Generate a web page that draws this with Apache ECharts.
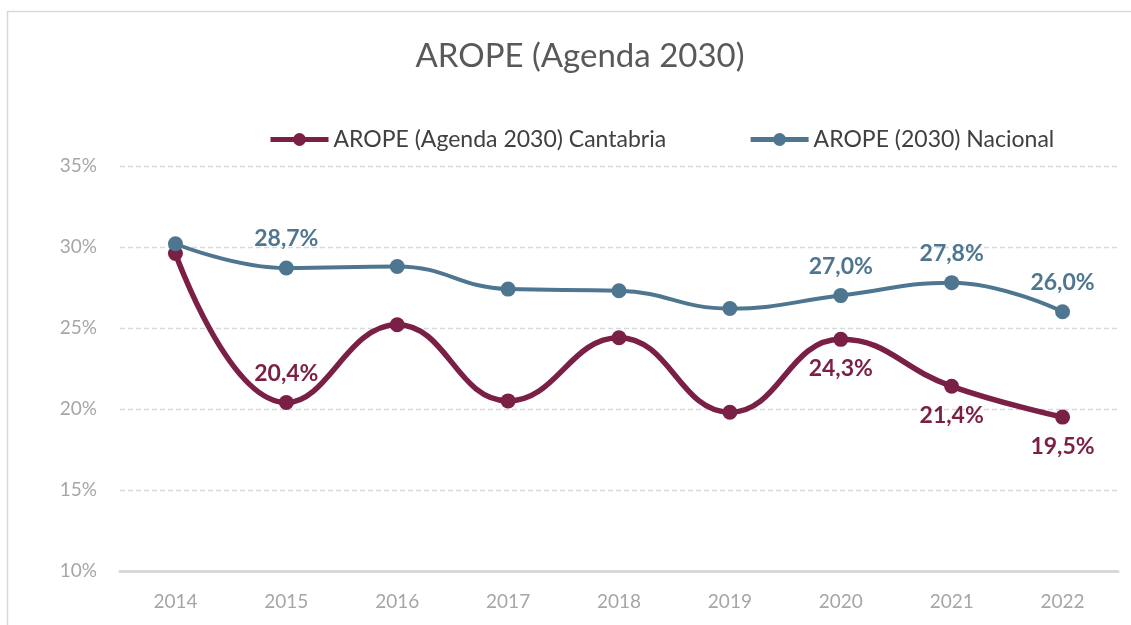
<!DOCTYPE html>
<html>
<head>
<meta charset="utf-8">
<script src="https://cdn.jsdelivr.net/npm/echarts@6/dist/echarts.min.js"></script>
<style>
  html, body { margin: 0; padding: 0; background: #fff; overflow: hidden; }
  #chart { width: 1131px; height: 625px; }
</style>
</head>
<body>
<div id="chart"></div>
<script>
var years = ['2014', '2015', '2016', '2017', '2018', '2019', '2020', '2021', '2022'];
var cantabria = [29.6, 20.4, 25.2, 20.5, 24.4, 19.8, 24.3, 21.4, 19.5];
var nacional = [30.2, 28.7, 28.8, 27.4, 27.3, 26.2, 27.0, 27.8, 26.0];
// which points carry a label (index into years)
var cantabriaLabelsTop = [1];
var cantabriaLabelsBottom = [6, 7, 8];
var nacionalLabelsTop = [1, 6, 7, 8];

var colCant = '#7A1F45';
var colNac = '#4E7690';

function fmt(v) {
  return v.toFixed(1).replace('.', ',') + '%';
}

function buildData(values, top, bottom, color) {
  return values.map(function (v, i) {
    var item = { value: v };
    var pos = null;
    if (top.indexOf(i) >= 0) pos = 'top';
    if (bottom.indexOf(i) >= 0) pos = 'bottom';
    if (pos) {
      item.label = {
        show: true,
        position: pos,
        distance: 10,
        color: color,
        fontWeight: 'bold',
        fontSize: 23,
        fontFamily: 'Lato',
        formatter: function (p) { return fmt(p.value); }
      };
    }
    return item;
  });
}

var chart = echarts.init(document.getElementById('chart'));
var option = {
  animation: false,
  textStyle: { fontFamily: 'Lato' },
  title: {
    text: 'AROPE (Agenda 2030)',
    left: 575,
    textAlign: 'center',
    top: 35,
    textStyle: { fontSize: 33, fontWeight: 'normal', color: '#595959', fontFamily: 'Lato' }
  },
  legend: {
    left: 263,
    top: 123,
    itemWidth: 58,
    itemHeight: 16,
    itemGap: 82,
    lineStyle: { width: 5 },
    textStyle: { fontSize: 23, color: '#404040', fontFamily: 'Lato' },
    data: ['AROPE (Agenda 2030) Cantabria', 'AROPE (2030) Nacional']
  },
  grid: { left: 120, right: 13, top: 166, bottom: 54 },
  xAxis: {
    type: 'category',
    data: years,
    boundaryGap: true,
    axisLine: { lineStyle: { color: '#d9d9d9', width: 3 } },
    axisTick: { show: false },
    axisLabel: { color: '#a6a6a6', fontSize: 19, margin: 21 }
  },
  yAxis: {
    type: 'value',
    min: 10,
    max: 35,
    interval: 5,
    axisLine: { show: false },
    axisTick: { show: false },
    axisLabel: { color: '#a6a6a6', fontSize: 19, margin: 23, formatter: '{value}%' },
    splitLine: { lineStyle: { color: '#d9d9d9', type: [5, 3], width: 1.3 } }
  },
  graphic: [{
    type: 'rect',
    silent: true,
    z: -1,
    shape: { x: 7.5, y: 11.5, width: 1300, height: 800 },
    style: { fill: 'none', stroke: '#d9d9d9', lineWidth: 1.5 }
  }],
  series: [
    {
      name: 'AROPE (Agenda 2030) Cantabria',
      type: 'line',
      smooth: 0.45,
      symbol: 'circle',
      symbolSize: 15,
      color: colCant,
      lineStyle: { width: 5.5, color: colCant },
      itemStyle: { color: colCant },
      data: buildData(cantabria, cantabriaLabelsTop, cantabriaLabelsBottom, colCant)
    },
    {
      name: 'AROPE (2030) Nacional',
      type: 'line',
      smooth: 0.45,
      symbol: 'circle',
      symbolSize: 15,
      color: colNac,
      lineStyle: { width: 4, color: colNac },
      itemStyle: { color: colNac },
      data: buildData(nacional, nacionalLabelsTop, [], colNac)
    }
  ]
};
chart.setOption(option);
</script>
</body>
</html>
